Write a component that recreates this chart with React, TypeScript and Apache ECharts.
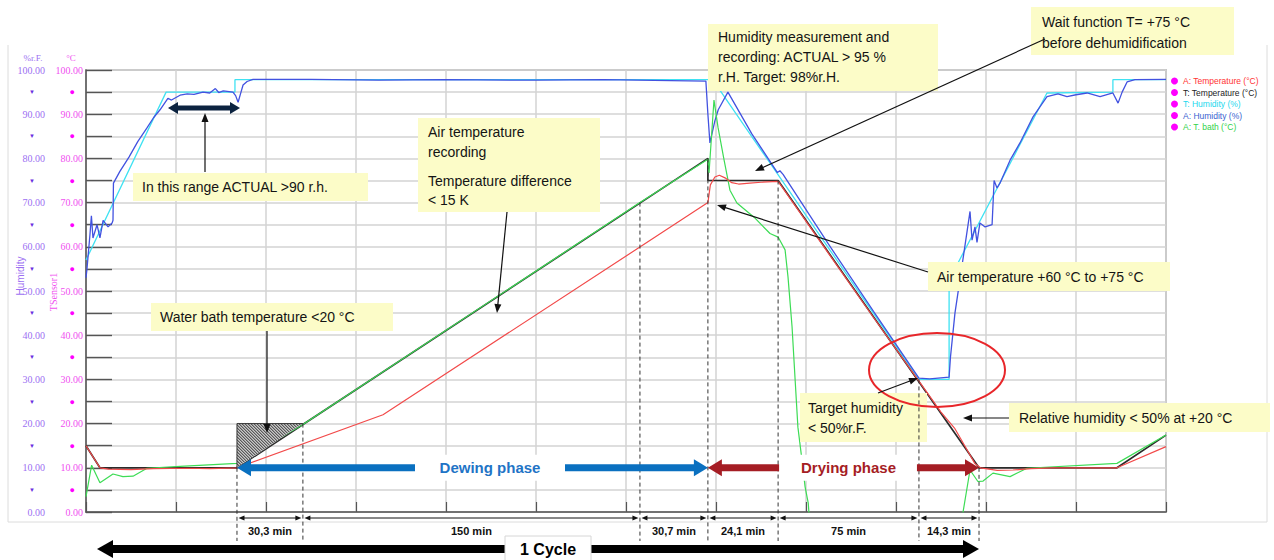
import React, { useEffect, useRef } from "react";
import * as echarts from "echarts";

type Pt = [number, number];

// x: minutes over the recorded window, y: °C / %r.F.
const timeMin = 0;
const timeMax = 480;
const timeStep = 40;

const seriesNames = ["A: Temperature (°C)", "T: Temperature (°C)", "T: Humidity (%)", "A: Humidity (%)", "A: T. bath (°C)"];
const seriesColors = ["#f24a4a", "#2b2b2b", "#3fe2f2", "#4252e0", "#3ddc55"];
const legendTextColors = ["#ff3333", "#222222", "#22d8ee", "#3a5fd0", "#2fd24a"];

const aTemperature: Pt[] = [
  [0, 15], [6.2, 10], [10, 9.7], [20, 9.6], [30, 9.8], [45, 9.9], [55, 9.8], [67.1, 10], [132, 22], [276.4, 70],
  [277.5, 74], [279.5, 75.8], [281.5, 76.2], [284, 75.6], [287, 74.5], [290, 74.2], [295, 74.4], [300, 74.6], [307.6, 74.8],
  [330, 58.5], [350, 44], [370.2, 29.6], [380, 22.6], [386, 19], [391, 14.6], [395, 11], [397.5, 10], [405, 9.4],
  [412, 9.5], [420, 9.8], [430, 10], [458.2, 10], [480, 14.8],
];

const tTemperature: Pt[] = [
  [0, 15], [6.2, 10], [67.1, 10], [276.4, 80], [276.4, 75], [307.6, 75], [396.9, 10], [458.2, 10], [480, 17.4],
];

const tHumidity: Pt[] = [
  [0, 57], [35.6, 95], [66.2, 95], [66.2, 97.8], [278.5, 97.8], [370.2, 30], [383.6, 30], [383.6, 52.5],
  [427.1, 94.8], [456.4, 95], [456.4, 97.8], [480, 97.8],
];

const aHumidity: Pt[] = [
  [0, 53], [0.4, 54.8], [1.8, 63], [2.4, 67], [3.1, 62], [4.9, 65], [6.2, 62], [7.6, 66], [9.8, 64.5], [11.6, 65.4],
  [12, 66], [12.2, 74.4], [15, 77], [19.1, 80.3], [23, 83.8], [27.1, 86.9], [30, 89.2], [32.9, 91], [36.4, 93.6],
  [38, 93.2], [41.8, 94.3], [45, 94.6], [48, 94.5], [52, 95], [55, 94.8], [57.5, 95.8], [59, 94.9], [61, 95.3],
  [65.3, 95], [66.5, 94.2], [67.6, 92.7], [68.6, 94.5], [69.8, 96.6], [71.6, 97.4], [74.2, 97.9], [100, 97.9],
  [130, 97.7], [160, 97.8], [200, 97.7], [230, 97.8], [260, 97.6], [275.5, 97.5], [276.4, 90], [277.3, 83.5],
  [279.5, 88.5], [281, 91], [285.3, 95], [296, 85.5], [307.3, 76.8], [308.4, 77.2], [309.8, 76.4], [330, 60.6],
  [350, 45.4], [370.2, 30.3], [375, 30.1], [383.6, 30.5], [384.2, 35], [386.2, 45], [388.4, 52.5], [392.9, 68],
  [393.8, 61.5], [395.1, 64.5], [396, 61], [397.3, 65.4], [399.6, 64.5], [402.7, 65], [403.6, 75], [404.9, 73.3],
  [406.2, 74.4], [410.7, 79.6], [415.1, 83.5], [420.9, 89.4], [427.1, 94], [432, 94.6], [436, 94], [440, 94.4],
  [444.9, 94.8], [450.7, 94], [456.4, 94.8], [458.7, 92.5], [460.5, 95], [462.7, 97.3], [466.2, 97.8], [480, 97.9],
];

const aBath: Pt[] = [
  [0, 3.5], [2.5, 10.6], [6.2, 6.6], [12, 8.6], [16.4, 8.0], [20.9, 8.1], [27.1, 9.9], [41.8, 10.3], [67.1, 11],
  [96.4, 19.8], [246.2, 70], [276.4, 79.8], [276.9, 76.7], [279.1, 93.2], [280.9, 87], [283.6, 79.6], [286.2, 72.8],
  [289.3, 69.9], [296.9, 66.7], [304, 63], [307.6, 62.2], [310.7, 59.3], [312, 53.2], [313.8, 41.9], [315.1, 30.5],
  [316.4, 19.2], [318.2, 11.8], [319.6, 5.7], [321, 2], [322, -5], [388, -5], [389.8, 0], [392.9, 9.5], [396.4, 6.9],
  [398.7, 7.0], [403.1, 8.8], [410.7, 8.0], [418.2, 9.9], [458.2, 11], [480, 17.4],
];

const phaseTimes = [67.1, 96.4, 246.2, 276.4, 307.6, 370.2, 396.9];
const phaseTopValues = [10, 20, 70, 80, 75, 30, 10];
const durationLabels = ["30,3 min", "150 min", "30,7 min", "24,1 min", "75 min", "14,3 min"];
const cycleStartTime = 4.9;
const phaseLevel = 10;

type Note = { x: number; y: number; w: number; h: number; tx: number; lines: string[]; ly: number[] };
const notes: Note[] = [
  { x: 133, y: 173, w: 235, h: 28, tx: 142, lines: ["In this range ACTUAL >90 r.h."], ly: [187] },
  { x: 151, y: 303, w: 242, h: 28, tx: 160, lines: ["Water bath temperature <20 °C"], ly: [317] },
  { x: 418, y: 118, w: 182, h: 94, tx: 428, lines: ["Air temperature", "recording", "Temperature difference", "< 15 K"], ly: [132, 152, 181, 200] },
  { x: 708, y: 24, w: 230, h: 67, tx: 718, lines: ["Humidity measurement and", "recording: ACTUAL > 95 %", "r.H. Target: 98%r.H."], ly: [37, 57, 77] },
  { x: 1031, y: 7, w: 203, h: 48, tx: 1042, lines: ["Wait function T= +75 °C", "before dehumidification"], ly: [22, 43] },
  { x: 928, y: 262, w: 242, h: 29, tx: 937, lines: ["Air temperature +60 °C to +75 °C"], ly: [277] },
  { x: 800, y: 393, w: 127, h: 49, tx: 808, lines: ["Target humidity", "< 50%r.F."], ly: [408, 428] },
  { x: 1009, y: 403, w: 261, h: 29, tx: 1019, lines: ["Relative humidity < 50% at +20 °C"], ly: [418] },
];

const pointerArrows: number[][] = [
  [205, 172, 205, 113],
  [267, 331, 267, 433],
  [507, 212, 497, 313],
  [1045, 39, 755, 171],
  [928, 272, 717, 205],
  [878, 393, 918, 378],
  [1009, 418, 963, 418],
];

const FONT = '"Liberation Sans", Arial, sans-serif';
const SERIF = '"Liberation Serif", "Times New Roman", serif';

function arrow(x1: number, y1: number, x2: number, y2: number, color: string, lw: number, hl: number, hw: number, both = false, z = 110): any[] {
  const dx = x2 - x1, dy = y2 - y1;
  const L = Math.hypot(dx, dy);
  const ux = dx / L, uy = dy / L, nx = -uy, ny = ux;
  const sx = both ? x1 + ux * hl * 0.8 : x1;
  const sy = both ? y1 + uy * hl * 0.8 : y1;
  const ex = x2 - ux * hl * 0.8, ey = y2 - uy * hl * 0.8;
  const head = (tx: number, ty: number, vx: number, vy: number) => ({
    type: "polygon", z, silent: true,
    shape: { points: [[tx, ty], [tx - vx * hl + nx * hw / 2, ty - vy * hl + ny * hw / 2], [tx - vx * hl - nx * hw / 2, ty - vy * hl - ny * hw / 2]] },
    style: { fill: color },
  });
  const els: any[] = [{ type: "line", z, silent: true, shape: { x1: sx, y1: sy, x2: ex, y2: ey }, style: { stroke: color, lineWidth: lw } }];
  els.push(head(x2, y2, ux, uy));
  if (both) els.push(head(x1, y1, -ux, -uy));
  return els;
}

function txt(x: number, y: number, text: string, opts: any = {}, z = 105): any {
  return {
    type: "text", x, y, z, silent: true, rotation: opts.rotation || 0,
    style: {
      text, fill: opts.fill || "#111", fontSize: opts.fontSize || 14, fontFamily: opts.fontFamily || FONT,
      fontWeight: opts.fontWeight || "normal", align: opts.align || "left", verticalAlign: "middle",
    },
  };
}

export default function App() {
  const ref = useRef<HTMLDivElement>(null);

  useEffect(() => {
    if (!ref.current) return;
    const chart = echarts.init(ref.current, null, { renderer: "svg" });
    const ordered = [
      { name: seriesNames[2], data: tHumidity, color: seriesColors[2], w: 1.3, yi: 1 },
      { name: seriesNames[3], data: aHumidity, color: seriesColors[3], w: 1.3, yi: 1 },
      { name: seriesNames[1], data: tTemperature, color: seriesColors[1], w: 1.7, yi: 0 },
      { name: seriesNames[4], data: aBath, color: seriesColors[4], w: 1.2, yi: 0 },
      { name: seriesNames[0], data: aTemperature, color: seriesColors[0], w: 1.2, yi: 0 },
    ];
    const gridSplit = { show: true, lineStyle: { color: "#d3d3d3", width: 1.5 } };
    chart.setOption({
      animation: false,
      textStyle: { fontFamily: FONT },
      grid: { left: 86, top: 70, width: 1080, height: 442, show: true, borderColor: "#9a9a9a", borderWidth: 1.5, backgroundColor: "transparent" },
      legend: {
        orient: "vertical", left: 1166, top: 71, icon: "circle", itemWidth: 7, itemHeight: 7, itemGap: 1.5, selectedMode: false,
        textStyle: { fontSize: 8.5, fontFamily: FONT, lineHeight: 10 },
        data: seriesNames.map((n, i) => ({ name: n, itemStyle: { color: "#ff00ff" }, textStyle: { color: legendTextColors[i] } })),
      },
      xAxis: {
        type: "value", min: timeMin, max: timeMax, interval: timeStep, minInterval: timeStep, maxInterval: timeStep, splitNumber: 12,
        axisLabel: { show: false },
        axisLine: { show: true, lineStyle: { color: "#555", width: 1.5 } },
        axisTick: { show: true, inside: true, length: 10, lineStyle: { color: "#555", width: 1.2 } },
        minorTick: { show: false },
        minorSplitLine: { show: false },
        splitLine: gridSplit,
      },
      yAxis: [
        {
          type: "value", min: 0, max: 100, interval: 5, position: "left", offset: 0,
          axisLine: { show: true, lineStyle: { color: "#555", width: 1.5 } },
          axisTick: { show: true, inside: true, length: 26, lineStyle: { color: "#555", width: 1.4 } },
          splitLine: gridSplit,
          axisLabel: {
            margin: 3, color: "#f050f0", fontFamily: SERIF, fontSize: 10,
            formatter: (v: number) => (v % 10 === 0 ? v.toFixed(2) : "{d|●}"),
            rich: { d: { color: "#ff00ff", fontSize: 9, padding: [0, 8, 0, 0] } },
          },
        },
        {
          type: "value", min: 0, max: 100, interval: 5, position: "left", offset: 41,
          axisLine: { show: false }, axisTick: { show: false }, splitLine: { show: false },
          axisLabel: {
            margin: 0, color: "#9c70f2", fontFamily: SERIF, fontSize: 10,
            formatter: (v: number) => (v % 10 === 0 ? v.toFixed(2) : "{t|▼}"),
            rich: { t: { color: "#6a30e0", fontSize: 6, padding: [0, 10, 0, 0] } },
          },
        },
      ],
      series: ordered.map((s) => ({
        name: s.name, type: "line", data: s.data, yAxisIndex: s.yi, showSymbol: false, symbol: "none",
        color: s.color, lineStyle: { color: s.color, width: s.w }, clip: true, silent: true,
      })),
    });

    const P = (t: number, v: number) => chart.convertToPixel({ gridIndex: 0 }, [t, v]) as number[];
    const g: any[] = [];

    // frame
    g.push({ type: "polyline", z: 90, silent: true, shape: { points: [[8, 45], [8, 522], [1267, 522], [1267, 45]] }, style: { stroke: "#dcdcdc", lineWidth: 1, fill: "none" } });

    // axis headers and names
    g.push(txt(33, 58, "%r.F.", { fill: "#9c70f2", fontSize: 9, fontFamily: SERIF, align: "center" }));
    g.push(txt(71, 58, "°C", { fill: "#f050f0", fontSize: 9, fontFamily: SERIF, align: "center" }));
    g.push(txt(20, 276, "Humidity", { fill: "#9c70f2", fontSize: 10, align: "center", rotation: Math.PI / 2 }));
    g.push(txt(53, 292, "TSensor1", { fill: "#f050f0", fontSize: 10, fontFamily: SERIF, align: "center", rotation: Math.PI / 2 }));

    // hatched water bath region
    const [hx0, hy0] = P(phaseTimes[0], 20);
    const [hx1, hy1] = P(phaseTimes[1], 10);
    g.push({ type: "polygon", z: 100, silent: true, shape: { points: [[hx0, hy0], [hx1, hy0], [hx0, hy1]] }, style: { fill: "#c8c8c8" } });
    const w = hx1 - hx0, h = hy1 - hy0;
    for (let c = hy0 - hx1 + 1; c < hy1 - hx0; c += 3) {
      const smin = Math.max(hx0, hy0 - c);
      const smax = (1 + hx0 / w + (hy0 - c) / h) / (1 / w + 1 / h);
      if (smax > smin) g.push({ type: "line", z: 101, silent: true, shape: { x1: smin, y1: smin + c, x2: smax, y2: smax + c }, style: { stroke: "#2a2a2a", lineWidth: 1 } });
    }
    g.push({ type: "polyline", z: 102, silent: true, shape: { points: [[hx0, hy1], [hx0, hy0], [hx1, hy0]] }, style: { stroke: "#333", lineWidth: 1, fill: "none" } });

    // note boxes
    notes.forEach((n) => {
      g.push({ type: "rect", z: 103, silent: true, shape: { x: n.x, y: n.y, width: n.w, height: n.h }, style: { fill: "#fcfcc8" } });
      n.lines.forEach((l, i) => g.push(txt(n.tx, n.ly[i], l, { fontSize: 14, fill: "#141414" })));
    });

    // red ellipse
    g.push({ type: "ellipse", z: 104, silent: true, shape: { cx: 937, cy: 370, rx: 68, ry: 37 }, style: { fill: "none", stroke: "#e8262a", lineWidth: 2 } });

    // dashed phase boundaries
    phaseTimes.forEach((t, i) => {
      const [x, y] = P(t, phaseTopValues[i]);
      g.push({ type: "line", z: 108, silent: true, shape: { x1: x, y1: y, x2: x, y2: 541 }, style: { stroke: "#333", lineWidth: 1, lineDash: [4, 3] } });
    });

    // phase arrows
    const [dA] = P(phaseTimes[0], phaseLevel);
    const [dB, yl] = P(phaseTimes[3], phaseLevel);
    const [dC] = P(phaseTimes[4], phaseLevel);
    const [dD] = P(phaseTimes[5], phaseLevel);
    const [dE] = P(phaseTimes[6], phaseLevel);
    g.push(...arrow(dA, yl, dB, yl, "#0a70c0", 7, 14, 17, true, 111));
    g.push({ type: "rect", z: 112, silent: true, shape: { x: 415, y: yl - 13, width: 150, height: 26 }, style: { fill: "#ffffff" } });
    g.push(txt(490, yl, "Dewing phase", { fill: "#1f74c6", fontSize: 15, fontWeight: "bold", align: "center" }, 113));
    g.push(...arrow(dB, yl, dE, yl, "#a51d24", 7, 14, 17, true, 111));
    g.push({ type: "rect", z: 112, silent: true, shape: { x: dC + 1, y: yl - 13, width: dD - dC - 3, height: 26 }, style: { fill: "#ffffff" } });
    g.push(txt((dC + dD) / 2, yl, "Drying phase", { fill: "#a51d24", fontSize: 15, fontWeight: "bold", align: "center" }, 113));

    // pointer arrows
    pointerArrows.forEach((a) => g.push(...arrow(a[0], a[1], a[2], a[3], "#111", 1.2, 9, 7, false, 114)));
    g.push(...arrow(168, 108, 240, 108, "#0c2340", 5, 10, 12, true, 114));

    // durations
    for (let i = 0; i < durationLabels.length; i++) {
      const [xa] = P(phaseTimes[i], 0);
      const [xb] = P(phaseTimes[i + 1], 0);
      g.push(...arrow(xa + 1.5, 518, xb - 1.5, 518, "#111", 1, 6, 5, true, 114));
      g.push(txt((xa + xb) / 2, 531, durationLabels[i], { fontSize: 11, fontWeight: "bold", align: "center", fill: "#111" }, 115));
    }

    // 1 cycle
    const [cA] = P(cycleStartTime, 0);
    g.push(...arrow(cA, 549, dE, 549, "#000", 8, 16, 18, true, 114));
    g.push({ type: "rect", z: 116, silent: true, shape: { x: 505, y: 536, width: 86, height: 26 }, style: { fill: "#fff", stroke: "#d6d6d6", lineWidth: 1 } });
    g.push(txt(548, 549, "1 Cycle", { fontSize: 16, fontWeight: "bold", align: "center", fill: "#000" }, 117));

    chart.setOption({ graphic: g });
    return () => chart.dispose();
  }, []);

  return <div ref={ref} style={{ position: "fixed", left: 0, top: 0, width: 1274, height: 560, background: "#fff" }} />;
}
